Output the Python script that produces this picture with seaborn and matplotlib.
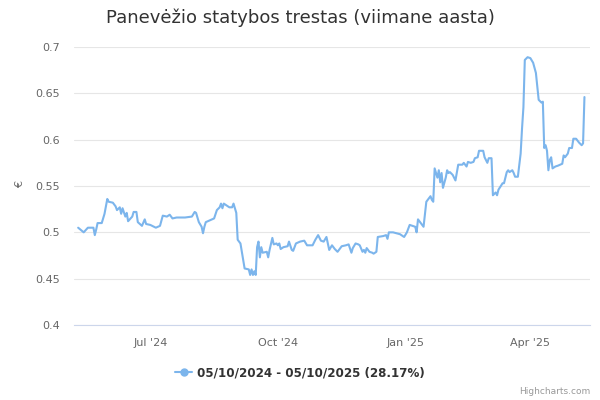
import matplotlib
matplotlib.use('Agg')
import matplotlib.pyplot as plt
from matplotlib.lines import Line2D
import pandas as pd
import seaborn as sns

# data (daily close, EUR)
dates = [
    "2024-05-10", "2024-05-14", "2024-05-17", "2024-05-21", "2024-05-22", "2024-05-23", "2024-05-24", "2024-05-27", "2024-05-29", "2024-05-31",
    "2024-06-01", "2024-06-04", "2024-06-06", "2024-06-07", "2024-06-09", "2024-06-10", "2024-06-11", "2024-06-13", "2024-06-14", "2024-06-15",
    "2024-06-18", "2024-06-19", "2024-06-21", "2024-06-22", "2024-06-25", "2024-06-27", "2024-06-28", "2024-07-01", "2024-07-05", "2024-07-08",
    "2024-07-10", "2024-07-13", "2024-07-15", "2024-07-17", "2024-07-20", "2024-07-26", "2024-07-31", "2024-08-02", "2024-08-03", "2024-08-05",
    "2024-08-07", "2024-08-08", "2024-08-09", "2024-08-10", "2024-08-13", "2024-08-16", "2024-08-18", "2024-08-20", "2024-08-21", "2024-08-22",
    "2024-08-23", "2024-08-25", "2024-08-27", "2024-08-29", "2024-08-30", "2024-09-01", "2024-09-02", "2024-09-04", "2024-09-06", "2024-09-07",
    "2024-09-10", "2024-09-11", "2024-09-12", "2024-09-13", "2024-09-14", "2024-09-15", "2024-09-16", "2024-09-17", "2024-09-18", "2024-09-19",
    "2024-09-20", "2024-09-23", "2024-09-24", "2024-09-25", "2024-09-27", "2024-09-28", "2024-09-30", "2024-10-01", "2024-10-02", "2024-10-03",
    "2024-10-05", "2024-10-08", "2024-10-09", "2024-10-11", "2024-10-12", "2024-10-14", "2024-10-17", "2024-10-20", "2024-10-22", "2024-10-26",
    "2024-10-28", "2024-10-30", "2024-11-01", "2024-11-03", "2024-11-05", "2024-11-07", "2024-11-09", "2024-11-11", "2024-11-13", "2024-11-16",
    "2024-11-19", "2024-11-21", "2024-11-23", "2024-11-24", "2024-11-26", "2024-11-28", "2024-11-29", "2024-12-01", "2024-12-02", "2024-12-03",
    "2024-12-04", "2024-12-06", "2024-12-08", "2024-12-09", "2024-12-11", "2024-12-12", "2024-12-16", "2024-12-18", "2024-12-19", "2024-12-20",
    "2024-12-23", "2024-12-28", "2024-12-31", "2025-01-02", "2025-01-04", "2025-01-06", "2025-01-08", "2025-01-09", "2025-01-10", "2025-01-12",
    "2025-01-14", "2025-01-16", "2025-01-17", "2025-01-19", "2025-01-20", "2025-01-21", "2025-01-22", "2025-01-24", "2025-01-25", "2025-01-26",
    "2025-01-27", "2025-01-28", "2025-01-30", "2025-01-31", "2025-02-01", "2025-02-02", "2025-02-04", "2025-02-06", "2025-02-08", "2025-02-11",
    "2025-02-12", "2025-02-14", "2025-02-15", "2025-02-17", "2025-02-19", "2025-02-20", "2025-02-22", "2025-02-23", "2025-02-26", "2025-02-27",
    "2025-03-01", "2025-03-02", "2025-03-04", "2025-03-05", "2025-03-07", "2025-03-08", "2025-03-09", "2025-03-12", "2025-03-13", "2025-03-15",
    "2025-03-16", "2025-03-17", "2025-03-19", "2025-03-20", "2025-03-21", "2025-03-23", "2025-03-25", "2025-03-26", "2025-03-27", "2025-03-28",
    "2025-03-30", "2025-04-01", "2025-04-03", "2025-04-05", "2025-04-06", "2025-04-07", "2025-04-09", "2025-04-10", "2025-04-11", "2025-04-12",
    "2025-04-13", "2025-04-14", "2025-04-15", "2025-04-16", "2025-04-17", "2025-04-19", "2025-04-21", "2025-04-24", "2025-04-25", "2025-04-26",
    "2025-04-28", "2025-04-29", "2025-05-01", "2025-05-02", "2025-05-04", "2025-05-06", "2025-05-08", "2025-05-09", "2025-05-10",
]
prices = [
    0.505, 0.500, 0.505, 0.505, 0.497, 0.503, 0.510, 0.510, 0.520, 0.536,
    0.533, 0.532, 0.528, 0.524, 0.527, 0.520, 0.526, 0.517, 0.521, 0.512,
    0.517, 0.522, 0.522, 0.511, 0.507, 0.514, 0.509, 0.508, 0.505, 0.507,
    0.518, 0.517, 0.519, 0.515, 0.516, 0.516, 0.517, 0.522, 0.521, 0.511,
    0.506, 0.499, 0.506, 0.511, 0.513, 0.515, 0.524, 0.527, 0.531, 0.526,
    0.531, 0.529, 0.527, 0.527, 0.531, 0.521, 0.492, 0.488, 0.470, 0.461,
    0.460, 0.454, 0.460, 0.454, 0.458, 0.454, 0.484, 0.490, 0.473, 0.484,
    0.478, 0.479, 0.473, 0.481, 0.494, 0.487, 0.488, 0.486, 0.488, 0.482,
    0.484, 0.485, 0.490, 0.481, 0.480, 0.488, 0.490, 0.491, 0.486, 0.486,
    0.492, 0.497, 0.491, 0.490, 0.495, 0.481, 0.486, 0.482, 0.479, 0.485,
    0.486, 0.487, 0.478, 0.483, 0.488, 0.487, 0.486, 0.479, 0.481, 0.478,
    0.483, 0.479, 0.478, 0.477, 0.479, 0.495, 0.496, 0.497, 0.493, 0.500,
    0.500, 0.498, 0.495, 0.500, 0.508, 0.507, 0.506, 0.500, 0.514, 0.510,
    0.506, 0.533, 0.535, 0.539, 0.535, 0.533, 0.569, 0.559, 0.567, 0.554,
    0.564, 0.548, 0.559, 0.567, 0.564, 0.565, 0.562, 0.556, 0.573, 0.573,
    0.575, 0.571, 0.576, 0.575, 0.576, 0.580, 0.581, 0.588, 0.588, 0.581,
    0.575, 0.580, 0.580, 0.540, 0.543, 0.540, 0.546, 0.553, 0.553, 0.565,
    0.567, 0.565, 0.567, 0.564, 0.560, 0.560, 0.585, 0.612, 0.635, 0.686,
    0.689, 0.688, 0.683, 0.672, 0.657, 0.643, 0.640, 0.641, 0.591, 0.594,
    0.588, 0.567, 0.578, 0.581, 0.569, 0.571, 0.572, 0.574, 0.583, 0.581,
    0.585, 0.591, 0.591, 0.601, 0.601, 0.597, 0.594, 0.596, 0.646,
]

y_ticks = [0.4, 0.45, 0.5, 0.55, 0.6, 0.65, 0.7]
y_labels = ["0.4", "0.45", "0.5", "0.55", "0.6", "0.65", "0.7"]
x_ticks = ["2024-07-01", "2024-10-01", "2025-01-01", "2025-04-01"]
x_labels = ["Jul '24", "Oct '24", "Jan '25", "Apr '25"]

title = "Panevėžio statybos trestas (viimane aasta)"
series_name = "05/10/2024 - 05/10/2025 (28.17%)"

sns.set_style("white")
plt.rcParams['font.family'] = ['DejaVu Sans']

df = pd.DataFrame({"date": pd.to_datetime(dates), "price": prices})

line_color = "#7cb5ec"

fig = plt.figure(figsize=(6, 4), dpi=100)
ax = fig.add_axes([74 / 600, 75 / 400, 516 / 600, 278 / 400])

sns.lineplot(data=df, x="date", y="price", ax=ax, color=line_color, linewidth=1.5)

ax.set_ylim(0.4, 0.7)
ax.set_yticks(y_ticks)
ax.set_yticklabels(y_labels)
ax.set_xlim(pd.Timestamp("2024-05-07"), pd.Timestamp("2025-05-14"))
ax.set_xticks(pd.to_datetime(x_ticks))
ax.set_xticklabels(x_labels)

ax.grid(axis="y", color="#e6e6e6", linewidth=0.8)
ax.grid(axis="x", visible=False)
ax.set_axisbelow(True)
for s in ["left", "top", "right"]:
    ax.spines[s].set_visible(False)
ax.spines["bottom"].set_color("#ccd6eb")
ax.spines["bottom"].set_linewidth(0.8)

ax.tick_params(axis="x", length=7.2, width=0.8, color="#ccd6eb", labelcolor="#666666", labelsize=8, pad=2)
ax.tick_params(axis="y", length=0, labelcolor="#666666", labelsize=8, pad=10)
ax.set_xlabel("")
ax.set_ylabel("")

fig.text(20 / 600, 1 - 185 / 400, "€", rotation=90, ha="center", va="center", fontsize=8, color="#666666")
fig.text(0.5, 1 - 18 / 400, title, ha="center", va="center", fontsize=13, color="#333333")

handle = Line2D([0], [0], color=line_color, linewidth=1.5, marker="o", markersize=5)
leg = fig.legend([handle], [series_name], loc="center", bbox_to_anchor=(0.5, 1 - 373 / 400),
                 frameon=False, handlelength=1.4, handletextpad=0.4,
                 prop={"weight": "bold", "size": 8.6})
for t in leg.get_texts():
    t.set_color("#333333")

fig.text(590 / 600, 1 - 392 / 400, "Highcharts.com", ha="right", va="center", fontsize=6.5, color="#999999")

plt.savefig("out.png", dpi=100)
